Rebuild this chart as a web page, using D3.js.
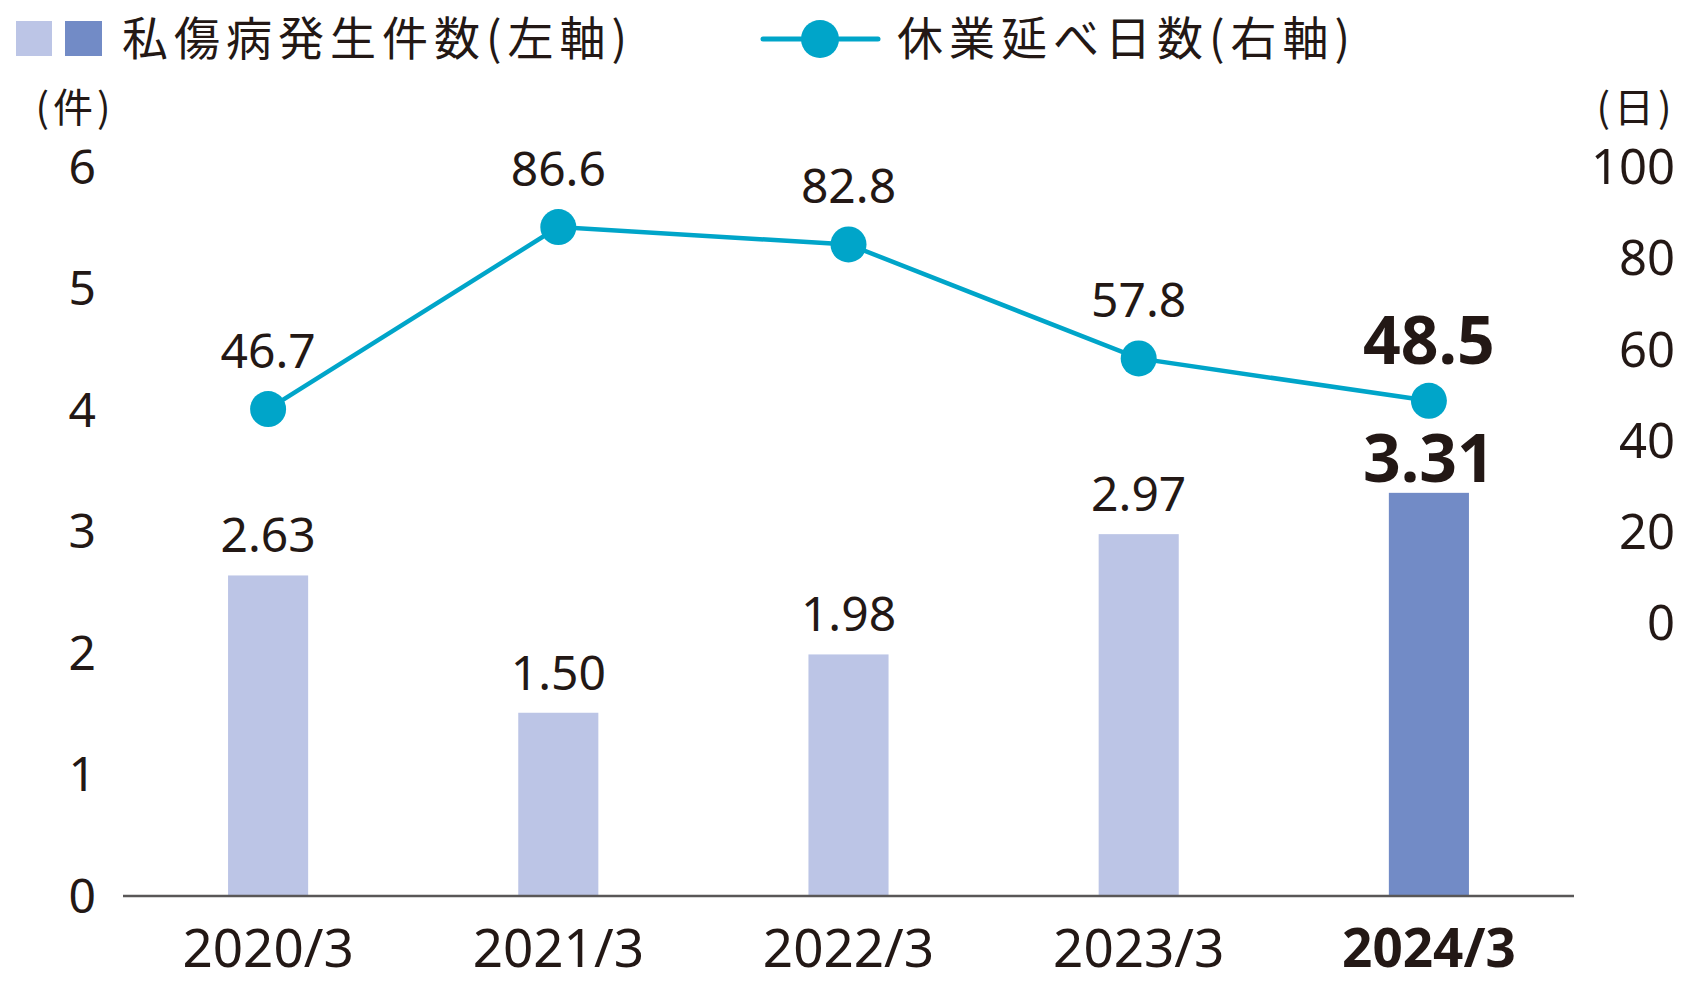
<!DOCTYPE html>
<html lang="ja">
<head>
<meta charset="utf-8">
<title>私傷病発生件数・休業延べ日数</title>
<script src="https://cdn.jsdelivr.net/npm/d3@7"></script>
<style>
  body { margin: 0; background: #fff; }
  svg text { font-family: "Noto Sans CJK JP", "Noto Sans", sans-serif; fill: #231815; }
  svg text.num { font-family: "Noto Sans", "Noto Sans CJK JP", sans-serif; }
</style>
</head>
<body>
<script>
// data
var years = ["2020/3", "2021/3", "2022/3", "2023/3", "2024/3"];
var cases = [2.63, 1.50, 1.98, 2.97, 3.31];
var caseLabels = ["2.63", "1.50", "1.98", "2.97", "3.31"];
var days = [46.7, 86.6, 82.8, 57.8, 48.5];
var dayLabels = ["46.7", "86.6", "82.8", "57.8", "48.5"];
var leftTicks = [0, 1, 2, 3, 4, 5, 6];
var rightTicks = [0, 20, 40, 60, 80, 100];

var W = 1699, H = 985;
var light = "#bcc5e6", dark = "#728bc6", lineCol = "#00a5c9";

var svg = d3.select("body").append("svg").attr("width", W).attr("height", H);

var x = d3.scaleBand().domain(years).range([123, 1574])
    .paddingInner(0.724).paddingOuter(0.362);
var yL = d3.scaleLinear().domain([0, 6]).range([895, 166]);
var yR = d3.scaleLinear().domain([0, 100]).range([622, 166]);
var last = years.length - 1;

// bars
svg.selectAll("rect.bar").data(cases).enter().append("rect")
    .attr("class", "bar")
    .attr("x", function (d, i) { return x(years[i]); })
    .attr("width", x.bandwidth())
    .attr("y", function (d) { return yL(d); })
    .attr("height", function (d) { return yL(0) - yL(d); })
    .attr("fill", function (d, i) { return i == last ? dark : light; });

// baseline
svg.append("line").attr("x1", 123).attr("x2", 1574)
    .attr("y1", yL(0) + 1).attr("y2", yL(0) + 1)
    .attr("stroke", "#595757").attr("stroke-width", 2.5);

// left axis
var axL = svg.append("g").attr("transform", "translate(96,0)")
    .call(d3.axisLeft(yL).tickValues(leftTicks).tickFormat(d3.format("d")).tickSize(0).tickPadding(0));
axL.select(".domain").remove();
axL.selectAll("text").attr("class", "num").style("font-size", "48px").attr("dy", "0.36em");

// right axis
var axR = svg.append("g").attr("transform", "translate(1675,0)")
    .call(d3.axisLeft(yR).tickValues(rightTicks).tickSize(0).tickPadding(0));
axR.select(".domain").remove();
axR.selectAll("text").attr("class", "num").style("font-size", "49px").attr("dy", "0.36em");

// x axis labels
var axX = svg.append("g").attr("transform", "translate(0," + (yL(0) + 1) + ")")
    .call(d3.axisBottom(x).tickSize(0).tickPadding(0));
axX.select(".domain").remove();
axX.selectAll("text").attr("class", "num").attr("dy", null).attr("y", 71)
    .style("font-size", "53px")
    .style("font-weight", function (d, i) { return i == last ? "bold" : "normal"; });

// unit labels
svg.append("text").attr("x", 75).attr("y", 122).attr("text-anchor", "middle")
    .style("font-size", "40px").style("letter-spacing", "4px").text("(件)");
svg.append("text").attr("x", 1636).attr("y", 122).attr("text-anchor", "middle")
    .style("font-size", "40px").style("letter-spacing", "4px").text("(日)");

// bar value labels
svg.selectAll("text.cv").data(cases).enter().append("text")
    .attr("class", "num")
    .attr("x", function (d, i) { return x(years[i]) + x.bandwidth() / 2; })
    .attr("y", function (d, i) { return yL(d) - (i == last ? 11 : 23); })
    .attr("text-anchor", "middle")
    .style("font-size", function (d, i) { return i == last ? "66px" : "48px"; })
    .style("font-weight", function (d, i) { return i == last ? "bold" : "normal"; })
    .text(function (d, i) { return caseLabels[i]; });

// line
var cx = function (i) { return x(years[i]) + x.bandwidth() / 2; };
var line = d3.line().x(function (d, i) { return cx(i); }).y(function (d) { return yR(d); });
svg.append("path").datum(days).attr("d", line)
    .attr("fill", "none").attr("stroke", lineCol).attr("stroke-width", 4.5);
svg.selectAll("circle.pt").data(days).enter().append("circle")
    .attr("class", "pt")
    .attr("cx", function (d, i) { return cx(i); })
    .attr("cy", function (d) { return yR(d); })
    .attr("r", 18).attr("fill", lineCol);

svg.selectAll("text.dv").data(days).enter().append("text")
    .attr("class", "num")
    .attr("x", function (d, i) { return cx(i); })
    .attr("y", function (d, i) { return yR(d) - (i == last ? 37 : 41); })
    .attr("text-anchor", "middle")
    .style("font-size", function (d, i) { return i == last ? "66px" : "48px"; })
    .style("font-weight", function (d, i) { return i == last ? "bold" : "normal"; })
    .text(function (d, i) { return dayLabels[i]; });

// legend
svg.append("rect").attr("x", 16).attr("y", 21).attr("width", 36).attr("height", 35).attr("fill", light);
svg.append("rect").attr("x", 65).attr("y", 21).attr("width", 37).attr("height", 35).attr("fill", dark);
svg.append("text").attr("x", 122).attr("y", 55)
    .style("font-size", "46px").style("letter-spacing", "6px")
    .text("私傷病発生件数(左軸)");
svg.append("line").attr("x1", 763).attr("x2", 878).attr("y1", 39).attr("y2", 39)
    .attr("stroke", lineCol).attr("stroke-width", 5).attr("stroke-linecap", "round");
svg.append("circle").attr("cx", 820).attr("cy", 39).attr("r", 19).attr("fill", lineCol);
svg.append("text").attr("x", 897).attr("y", 55)
    .style("font-size", "46px").style("letter-spacing", "6px")
    .text("休業延べ日数(右軸)");
</script>
</body>
</html>
